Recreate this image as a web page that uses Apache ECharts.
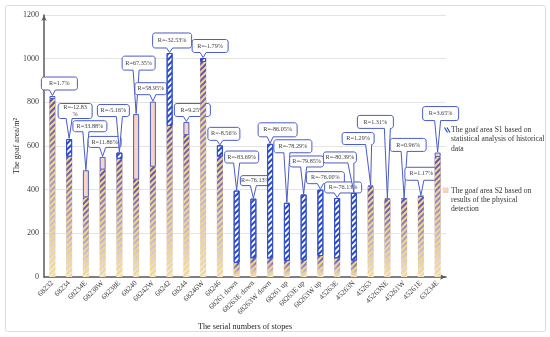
<!DOCTYPE html>
<html><head><meta charset="utf-8">
<script src="https://cdn.jsdelivr.net/npm/echarts@6/dist/echarts.min.js"></script>
<style>html,body{margin:0;padding:0;background:#fff}#c{width:550px;height:337px}</style>
</head><body><div id="c"></div><script>
// ---- data ----
const categories = ['68232','68234','68234E','68238W','68238E','68240','68242W','68242','68244','68246W','68246','68261 down','68263E down','68263W down','68261 up','68263E up','68263W up','45263E','45263N','45263','45263NE','45261W','45261E','63234E'];
const s1Values = [815,632,365,492,570,446,505,1026,650,1003,603,396,359,610,340,378,400,362,385,414,355,357,368,550];
const s2Values = [829,551,489,550,541,746,803,692,710,985,551,65,86,85,74,76,96,86,75,419,360,360,372,570];
const rLabels = ['R=1.7%','R=-12.83\n%','R=33.88%','R=11.86%','R=-5.16%','R=67.35%','R=58.95%','R=-32.53%','R=9.25%','R=-1.79%','R=-8.56%','R=-83.69%','R=-76.13%','R=-86.05%','R=-78.29%','R=-79.85%','R=-76.00%','R=-76.13%','R=-80.39%','R=1.29%','R=1.31%','R=0.96%','R=1.17%','R=3.65%'];
const yTicks = [0,200,400,600,800,1000,1200];

// ---- layout (callout box centre offset from bar top in px, box width, height) ----
const calloutLayout = [
  [7,-12.5,36,13],[6,-28,34,15],[4,-44,34,11],[2,-15,33,11],[-6,-42,32,12],[2.5,-51,33,14],
  [-2,-13,32,12],[2.5,-12.5,39,15],[6,-12,36,13],[7,-12,36,13],[4,-11.5,32,13],[5,-33.5,34,12],
  [2,-18,30,10],[7.5,-14,39,14],[6,-56.5,38,13],[3,-33,34,11],[5,-12,38,12],[6,-10.5,37,11],
  [-14,-35.5,33,11],[-12.5,-47,32,12],[-12,-76.5,36,13],[4,-53.5,36,13],[0.5,-22,33,13],[3,-39,36,14]
];

const FONT = '"Liberation Serif", "Times New Roman", serif';
const baseVals = s1Values.map((v,i)=>Math.min(v,s2Values[i]));
const s1Excess = s1Values.map((v,i)=> v>s2Values[i] ? v-s2Values[i] : '-');
const s2Excess = s1Values.map((v,i)=> s2Values[i]>=v ? s2Values[i]-v : '-');
const tops = s1Values.map((v,i)=>Math.max(v,s2Values[i]));

const BLUE = '#3550c6';

function calloutPoints(x1,y1,x2,y2,r,bx,hw,ax,ay){
  const pts=[];
  const arc=(cx,cy,a0,a1)=>{for(let k=0;k<=4;k++){const a=a0+(a1-a0)*k/4;pts.push([cx+r*Math.cos(a),cy+r*Math.sin(a)]);}};
  arc(x1+r,y1+r,Math.PI,1.5*Math.PI);
  arc(x2-r,y1+r,1.5*Math.PI,2*Math.PI);
  arc(x2-r,y2-r,0,0.5*Math.PI);
  pts.push([bx+hw,y2],[ax,ay],[bx-hw,y2]);
  arc(x1+r,y2-r,0.5*Math.PI,Math.PI);
  return pts;
}

const chart = echarts.init(document.getElementById('c'));
const axisLineStyle = {show:true, lineStyle:{color:'#5a5a5a', width:1.5}, symbol:['none','arrow'], symbolSize:[4,6]};
chart.setOption({
  animation:false,
  backgroundColor:'#fff',
  grid:{left:44,right:104,top:15,bottom:60,containLabel:false,outerBoundsMode:'none'},
  xAxis:{
    type:'category', data:categories,
    axisLine:axisLineStyle, axisTick:{show:false},
    axisLabel:{interval:0, rotate:45, fontSize:7.5, fontFamily:FONT, color:'#404040', margin:5},
    name:'The serial numbers of stopes', nameLocation:'middle', nameGap:46, nameMoveOverlap:false,
    nameTextStyle:{fontSize:8.2, fontFamily:FONT, color:'#262626'}
  },
  yAxis:{
    type:'value', min:yTicks[0], max:yTicks[yTicks.length-1], interval:yTicks[1]-yTicks[0],
    axisLine:axisLineStyle, axisTick:{show:false},
    splitLine:{lineStyle:{color:'#e4e4e4', width:1}},
    axisLabel:{fontSize:8, fontFamily:FONT, color:'#404040', margin:5, formatter:(v)=>String(v)},
    name:'The goaf area/m²', nameLocation:'middle', nameGap:23, nameMoveOverlap:false,
    nameTextStyle:{fontSize:8.2, fontFamily:FONT, color:'#262626'}
  },
  series:[
    {
      type:'custom', name:'callouts', z:1, silent:true, coordinateSystem:'cartesian2d',
      data: tops.map((t,i)=>[i,t]), encode:{x:0,y:1},
      renderItem:(params, api)=>{
        const i = params.dataIndex;
        const p = api.coord([api.value(0), api.value(1)]);
        const L = calloutLayout[i];
        const cx=p[0]+L[0], cy=p[1]+L[1], w=L[2], h=L[3];
        const x1=cx-w/2, x2=cx+w/2, y1=cy-h/2, y2=cy+h/2, r=2.5, hw=3;
        const bx=Math.min(Math.max(p[0],x1+r+hw),x2-r-hw);
        return {type:'group', children:[
          {type:'polygon', shape:{points:calloutPoints(x1,y1,x2,y2,r,bx,hw,p[0],p[1]-0.5)},
           style:{fill:'#fff', stroke:'#4a5cc4', lineWidth:1}},
          {type:'text', style:{text:rLabels[i], x:cx, y:cy, align:'center', verticalAlign:'middle',
           font:'6.2px '+FONT, fill:'#404040', lineHeight:6.5}}
        ]};
      }
    },
    {
      type:'bar', name:'base', stack:'a', z:3, barWidth:6, data:baseVals,
      itemStyle:{
        color:{type:'linear',x:0,y:0,x2:0,y2:1,colorStops:[{offset:0,color:'#5a4db4'},{offset:1,color:'#f3ece8'}]},
        decal:{symbol:'rect', symbolSize:1, dashArrayX:[1,0], dashArrayY:[1.5,1.5], rotation:-Math.PI/4, color:'#f6d683'}
      }
    },
    {
      type:'bar', name:'The goaf area S1 based on statistical analysis of historical data', stack:'a', z:3, barWidth:6, data:s1Excess,
      itemStyle:{color:'#fff', borderColor:BLUE, borderWidth:1,
        decal:{symbol:'rect', symbolSize:1, dashArrayX:[1,0], dashArrayY:[2,1.6], rotation:-Math.PI/4, color:'#2548d0'}}
    },
    {
      type:'bar', name:'The goaf area S2 based on results of the physical detection', stack:'a', z:3, barWidth:6, data:s2Excess,
      itemStyle:{color:'#f9d3c5', borderColor:'#4a5cc4', borderWidth:1}
    }
  ],
  graphic:[
    {type:'rect', z:-10, shape:{x:5.5,y:5.5,width:540,height:326,r:2}, style:{fill:'none', stroke:'#dcdcdc', lineWidth:1}},
    {type:'line', shape:{x1:444.5,y1:127.5,x2:447.5,y2:132.5}, style:{stroke:'#2548d0', lineWidth:1.2}},
    {type:'line', shape:{x1:447,y1:127.5,x2:450,y2:132.5}, style:{stroke:'#2548d0', lineWidth:1.2}},
    {type:'text', style:{text:'The goaf area S1 based on\nstatistical analysis of historical\ndata', x:451, y:125.5, font:'7.6px '+FONT, fill:'#333', lineHeight:9.2, verticalAlign:'top'}},
    {type:'rect', shape:{x:443,y:187.5,width:5.5,height:5.5}, style:{fill:'#f9cfbc'}},
    {type:'text', style:{text:'The goaf area S2 based on\nresults of the physical\ndetection', x:451, y:186, font:'7.6px '+FONT, fill:'#333', lineHeight:9.2, verticalAlign:'top'}}
  ]
});
</script></body></html>
